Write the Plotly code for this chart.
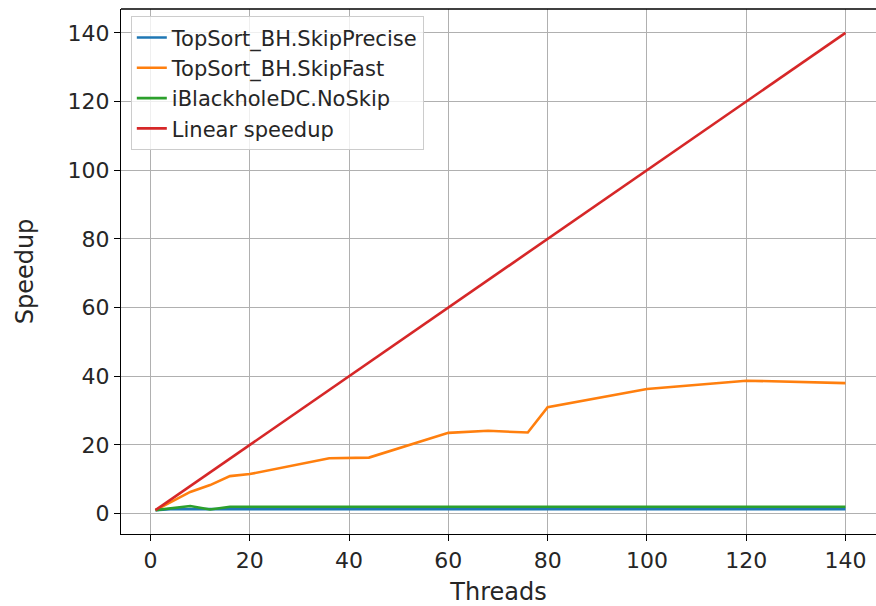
import plotly.graph_objects as go

# ---- data ----
precise_threads = [1, 4, 8, 12, 16, 20, 40, 60, 80, 100, 120, 140]
precise_speedup = [1.0, 1.3, 1.3, 1.3, 1.3, 1.3, 1.3, 1.3, 1.3, 1.3, 1.3, 1.3]

fast_threads = [1, 8, 12, 16, 20, 36, 44, 52, 60, 68, 76, 80, 100, 120, 140]
fast_speedup = [1.0, 6.3, 8.3, 10.9, 11.5, 16.1, 16.3, 19.8, 23.5, 24.1, 23.6, 31.0, 36.3, 38.7, 38.0]

noskip_threads = [1, 4, 8, 12, 16, 20, 40, 60, 80, 100, 120, 140]
noskip_speedup = [1.0, 1.5, 2.2, 1.2, 2.0, 2.0, 2.0, 2.0, 2.0, 2.0, 2.0, 2.0]

linear_threads = [1, 140]
linear_speedup = [1, 140]

x_ticks = [0, 20, 40, 60, 80, 100, 120, 140]
y_ticks = [0, 20, 40, 60, 80, 100, 120, 140]

series = [
    ("TopSort_BH.SkipPrecise", precise_threads, precise_speedup, "#1f77b4"),
    ("TopSort_BH.SkipFast", fast_threads, fast_speedup, "#ff7f0e"),
    ("iBlackholeDC.NoSkip", noskip_threads, noskip_speedup, "#2ca02c"),
    ("Linear speedup", linear_threads, linear_speedup, "#d62728"),
]

FONT = "DejaVu Sans"

fig = go.Figure()
for i, (name, xs, ys, col) in enumerate(series):
    fig.add_trace(go.Scatter(
        x=xs, y=ys, mode="lines", name=name,
        line=dict(color=col, width=2.6),
        legendgroup=f"g{i}",
    ))

axis_common = dict(
    showgrid=True, gridcolor="#b0b0b0", gridwidth=1.3,
    zeroline=False, showline=True, linecolor="black", linewidth=1.3,
    ticks="outside", ticklen=6, tickwidth=1.3, tickcolor="black",
    tickfont=dict(family=FONT, size=22, color="#262626"),
    automargin=False,
)

fig.update_layout(
    width=876, height=606, autosize=False,
    margin=dict(l=121, r=0, t=9, b=72),
    paper_bgcolor="white", plot_bgcolor="white",
    font=dict(family=FONT, color="#262626"),
    showlegend=True,
    legend=dict(
        x=0.013, y=0.986, xanchor="left", yanchor="top",
        bgcolor="rgba(255,255,255,0.8)", bordercolor="#cccccc", borderwidth=1,
        font=dict(family=FONT, size=21, color="#262626"),
        tracegroupgap=0,
    ),
    xaxis=dict(
        range=[-5.95, 146.15], tickvals=x_ticks, mirror=False,
        title=dict(text="Threads", font=dict(family=FONT, size=24, color="#262626"), standoff=14),
        **axis_common,
    ),
    yaxis=dict(
        range=[-5.95, 146.95], tickvals=y_ticks,
        title=dict(text="Speedup", font=dict(family=FONT, size=24, color="#262626"), standoff=27),
        **axis_common,
    ),
    shapes=[dict(type="line", xref="paper", yref="paper", x0=0, x1=1, y0=1, y1=1,
                 line=dict(color="black", width=1.3))],
)

fig.write_html(
    "out.html",
    config={"displayModeBar": False},
    post_script="document.body.style.margin='0';document.body.style.overflow='hidden';",
)
